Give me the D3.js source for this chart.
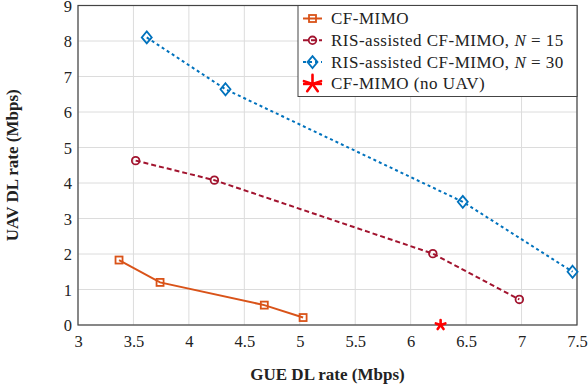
<!DOCTYPE html>
<html>
<head>
<meta charset="utf-8">
<script src="https://cdn.jsdelivr.net/npm/d3@7"></script>
<style>
  body { margin: 0; background: #fff; }
  svg text { font-family: "Liberation Serif", serif !important; }
</style>
</head>
<body>
<div id="container"></div>
<script>
/* CONSTANTS AND GLOBALS */
const width = 588,
  height = 386,
  margin = { top: 5.5, bottom: 61, left: 78, right: 11 };

/* DATA */
const cfX = [3.37, 3.74, 4.68, 5.03];
const cfY = [1.83, 1.20, 0.56, 0.21];
const ris15X = [3.52, 4.23, 6.20, 6.98];
const ris15Y = [4.63, 4.08, 2.01, 0.72];
const ris30X = [3.62, 4.33, 6.47, 7.46];
const ris30Y = [8.10, 6.64, 3.47, 1.50];
const noUavX = [6.27];
const noUavY = [0];
const xTicks = [3, 3.5, 4, 4.5, 5, 5.5, 6, 6.5, 7, 7.5];
const yTicks = [0, 1, 2, 3, 4, 5, 6, 7, 8, 9];

const series = [
  { name: "CF-MIMO", n: null, xs: cfX, ys: cfY, color: "#D95319", dash: null, marker: "square" },
  { name: "RIS-assisted CF-MIMO, ", n: "15", xs: ris15X, ys: ris15Y, color: "#A2142F", dash: "5,3", marker: "circle" },
  { name: "RIS-assisted CF-MIMO, ", n: "30", xs: ris30X, ys: ris30Y, color: "#0072BD", dash: "3,3", marker: "diamond" },
  { name: "CF-MIMO (no UAV)", n: null, xs: noUavX, ys: noUavY, color: "#FF0000", dash: null, marker: "star" }
];

/* SCALES */
const xScale = d3.scaleLinear()
  .domain([3, 7.5])
  .range([margin.left, width - margin.right]);

const yScale = d3.scaleLinear()
  .domain([0, 9])
  .range([height - margin.bottom, margin.top]);

/* HTML ELEMENTS */
const svg = d3.select("#container")
  .append("svg")
  .attr("width", width)
  .attr("height", height);

// grid
svg.append("g")
  .selectAll("line")
  .data(xTicks)
  .join("line")
  .attr("x1", d => xScale(d)).attr("x2", d => xScale(d))
  .attr("y1", yScale(0)).attr("y2", yScale(9))
  .attr("stroke", "#dcdcdc").attr("stroke-width", 1);

svg.append("g")
  .selectAll("line")
  .data(yTicks)
  .join("line")
  .attr("x1", xScale(3)).attr("x2", xScale(7.5))
  .attr("y1", d => yScale(d)).attr("y2", d => yScale(d))
  .attr("stroke", "#dcdcdc").attr("stroke-width", 1);

// axes
const xAxis = d3.axisBottom(xScale).tickValues(xTicks).tickSize(0).tickPadding(10).tickFormat(d3.format("~g"));
svg.append("g")
  .attr("transform", `translate(0,${yScale(0)})`)
  .call(xAxis)
  .attr("font-family", "Liberation Serif").attr("font-size", 16.5)
  .call(g => g.select(".domain").remove())
  .call(g => g.selectAll("text").attr("fill", "#222"));

const yAxis = d3.axisLeft(yScale).tickValues(yTicks).tickSize(0).tickPadding(6);
svg.append("g")
  .attr("transform", `translate(${xScale(3)},0)`)
  .call(yAxis)
  .attr("font-family", "Liberation Serif").attr("font-size", 16.5)
  .call(g => g.select(".domain").remove())
  .call(g => g.selectAll("text").attr("fill", "#222").attr("dy", "0.36em"));

// frame
svg.append("rect")
  .attr("x", xScale(3)).attr("y", yScale(9))
  .attr("width", xScale(7.5) - xScale(3))
  .attr("height", yScale(0) - yScale(9))
  .attr("fill", "none").attr("stroke", "#444").attr("stroke-width", 1.2);

// markers
function asterisk(g, color, x, y, s, w) {
  for (let k = 0; k < 5; k++) {
    const a = -Math.PI / 2 + k * 2 * Math.PI / 5;
    g.append("line")
      .attr("x1", x).attr("y1", y)
      .attr("x2", x + s * Math.cos(a)).attr("y2", y + s * Math.sin(a))
      .attr("stroke", color).attr("stroke-width", w).attr("stroke-linecap", "round");
  }
}

function drawMarker(g, type, color, x, y, big) {
  if (type === "square") {
    g.append("rect").attr("x", x - 3.5).attr("y", y - 3.5).attr("width", 7).attr("height", 7)
      .attr("fill", "none").attr("stroke", color).attr("stroke-width", 1.8);
  } else if (type === "circle") {
    g.append("circle").attr("cx", x).attr("cy", y).attr("r", 3.8)
      .attr("fill", "none").attr("stroke", color).attr("stroke-width", 1.8);
  } else if (type === "diamond") {
    g.append("path").attr("d", `M${x},${y - 6}L${x + 5},${y}L${x},${y + 6}L${x - 5},${y}Z`)
      .attr("fill", "none").attr("stroke", color).attr("stroke-width", 1.8);
  } else if (type === "star") {
    if (big) asterisk(g, color, x, y, 9, 2.6);
    else asterisk(g, color, x, y, 5, 2.6);
  }
}

const line = d3.line().x(d => xScale(d[0])).y(d => yScale(d[1]));

series.forEach(s => {
  const pts = s.xs.map((x, i) => [x, s.ys[i]]);
  const g = svg.append("g");
  if (pts.length > 1) {
    g.append("path")
      .datum(pts)
      .attr("d", line)
      .attr("fill", "none")
      .attr("stroke", s.color)
      .attr("stroke-width", 2)
      .attr("stroke-dasharray", s.dash);
  }
  pts.forEach(p => drawMarker(g, s.marker, s.color, xScale(p[0]), yScale(p[1]), false));
});

// axis labels
svg.append("text")
  .attr("x", (xScale(3) + xScale(7.5)) / 2)
  .attr("y", 380)
  .attr("text-anchor", "middle")
  .attr("font-size", 17)
  .attr("font-weight", "bold")
  .attr("fill", "#222")
  .text("GUE DL rate (Mbps)");

svg.append("text")
  .attr("transform", "rotate(-90)")
  .attr("x", -(yScale(0) + yScale(9)) / 2)
  .attr("y", 18)
  .attr("text-anchor", "middle")
  .attr("font-size", 17)
  .attr("font-weight", "bold")
  .attr("fill", "#222")
  .text("UAV DL rate (Mbps)");

/* LEGEND */
const legend = svg.append("g");
legend.append("rect")
  .attr("x", 298).attr("y", 5.5)
  .attr("width", 279).attr("height", 91)
  .attr("fill", "#fff").attr("stroke", "#444").attr("stroke-width", 1);

series.forEach((s, i) => {
  const cy = 18.5 + i * 21.8;
  legend.append("line")
    .attr("x1", 303).attr("x2", 322).attr("y1", cy).attr("y2", cy)
    .attr("stroke", s.color).attr("stroke-width", s.marker === "star" ? 2.6 : 2)
    .attr("stroke-dasharray", s.dash);
  drawMarker(legend, s.marker, s.color, 312.5, cy, true);
  const t = legend.append("text")
    .attr("x", 331).attr("y", cy + 5.5)
    .attr("font-size", 17)
    .attr("letter-spacing", 0.5)
    .attr("fill", "#222");
  t.append("tspan").text(s.name);
  if (s.n) {
    t.append("tspan").attr("font-style", "italic").text("N");
    t.append("tspan").text(" = " + s.n);
  }
});
</script>
</body>
</html>
